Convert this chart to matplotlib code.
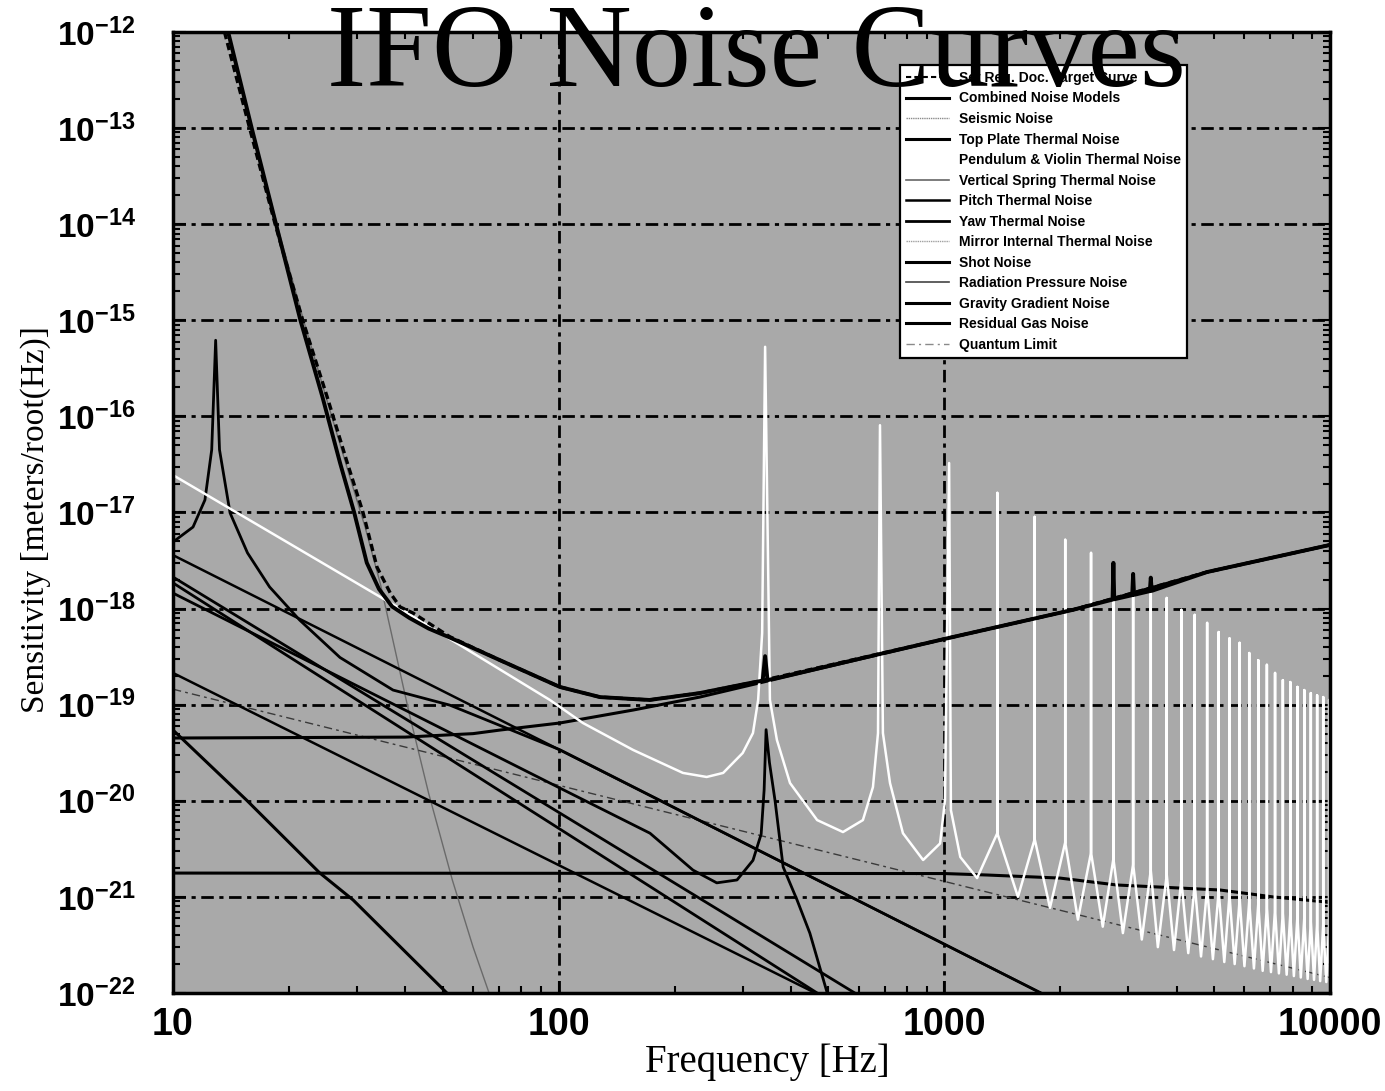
import matplotlib
matplotlib.use("Agg")
import matplotlib.pyplot as plt
from matplotlib.lines import Line2D
from matplotlib.ticker import FixedLocator, LogLocator, NullFormatter

plt.rcParams["mathtext.fontset"] = "custom"
plt.rcParams["mathtext.rm"] = "Liberation Sans:bold"
plt.rcParams["mathtext.bf"] = "Liberation Sans:bold"
plt.rcParams["mathtext.it"] = "Liberation Sans:bold"

# ---- data (Hz, m/rtHz) ----
target_f = [13.6, 15.8, 18.4, 21.7, 25.1, 28.3, 31.1, 33.8, 36.6, 38.8, 41.9, 52.2,
            70.5, 100.7, 128, 172, 232, 313, 340, 1016, 2153, 4797, 10000]
target_s = [1.0e-12, 1.0e-13, 1.0e-14, 1.0e-15, 1.6e-16, 3.3e-17, 1.0e-17, 2.7e-18,
            1.45e-18, 1.04e-18, 9.0e-19, 5.1e-19, 2.9e-19, 1.53e-19, 1.2e-19, 1.12e-19,
            1.32e-19, 1.68e-19, 1.8e-19, 4.9e-19, 9.7e-19, 2.4e-18, 4.6e-18]

combined_f = [13.9, 16.0, 18.5, 21.4, 24.4, 27.1, 29.5, 31.8, 34.2, 37.0, 41.0, 46.0,
              52.2, 70.5, 100.7, 128, 172, 232, 313, 338, 343, 348, 1016, 2153,
              2730, 2744, 2758, 3070, 3087, 3104, 3410, 3430, 3450, 4797, 10000]
combined_s = [1.0e-12, 1.0e-13, 1.0e-14, 1.0e-15, 1.6e-16, 3.3e-17, 1.0e-17, 3.0e-18,
              1.6e-18, 1.05e-18, 8.0e-19, 6.2e-19, 5.0e-19, 2.9e-19, 1.53e-19, 1.2e-19,
              1.12e-19, 1.32e-19, 1.68e-19, 1.78e-19, 3.2e-19, 1.8e-19, 4.9e-19, 9.7e-19,
              1.24e-18, 3.0e-18, 1.25e-18, 1.38e-18, 2.3e-18, 1.39e-18, 1.52e-18, 2.1e-18,
              1.53e-18, 2.4e-18, 4.6e-18]

seismic_f = [13.8, 16.0, 18.6, 21.8, 25.3, 28.6, 31.5, 34.5, 37.5, 41, 46, 53, 60, 66]
seismic_s = [1e-12, 1e-13, 1e-14, 1e-15, 1.3e-16, 2.5e-17, 7e-18, 1.8e-18, 4e-19,
             8e-20, 1.2e-20, 1.5e-21, 3e-22, 1e-22]

top_plate_f = [10, 11.27, 12.1, 12.6, 12.9, 13.2, 14.06, 15.6, 17.8, 21.3, 27.1, 37.2,
               52.2, 100.7, 1780]
top_plate_s = [4.93e-18, 7.06e-18, 1.35e-17, 4.5e-17, 6.2e-16, 4.5e-17, 9.9e-18, 3.8e-18,
               1.68e-18, 7.6e-19, 3.1e-19, 1.42e-19, 9.9e-20, 3.4e-20, 1.0e-22]

# pendulum / violin: low part with the first three modes
pend_f = [10, 38.8, 94.9, 115.6, 156, 210, 242, 267, 300, 319, 329, 337, 343, 353, 368,
          398, 468, 546, 615, 653, 673, 681, 693, 723, 781, 881, 975, 1004, 1029, 1040,
          1100]
pend_s = [2.45e-17, 1.0e-18, 1.12e-19, 6.45e-20, 3.38e-20, 1.95e-20, 1.77e-20, 1.95e-20,
          3.14e-20, 5.07e-20, 1.12e-19, 5.57e-19, 5.3e-16, 1.12e-19, 4.3e-20, 1.53e-20,
          6.3e-21, 4.73e-21, 6.3e-21, 1.39e-20, 5.07e-20, 8.1e-17, 5.07e-20, 1.53e-20,
          4.6e-21, 2.42e-21, 3.6e-21, 1.02e-20, 3.27e-17, 8.0e-21, 2.6e-21]
# higher violin harmonics
violin_f = [1372, 1715, 2058, 2401, 2744, 3087, 3430, 3773, 4116, 4459, 4802, 5145, 5488,
            5831, 6174, 6517, 6860, 7203, 7546, 7889, 8232, 8575, 8918, 9261, 9604, 9947]
violin_top = [1.6e-17, 9.0e-18, 5.2e-18, 3.8e-18, 3.05e-18, 2.34e-18, 2.1e-18, 1.29e-18,
              9.7e-19, 8.6e-19, 7.1e-19, 5.7e-19, 4.9e-19, 4.4e-19, 3.45e-19, 2.9e-19,
              2.6e-19, 2.14e-19, 1.8e-19, 1.72e-19, 1.53e-19, 1.42e-19, 1.32e-19, 1.25e-19,
              1.2e-19, 1.12e-19]
violin_base = [4.6e-21, 4.0e-21, 3.7e-21, 2.9e-21, 2.5e-21, 2.2e-21, 1.9e-21, 1.7e-21,
               1.5e-21, 1.35e-21, 1.25e-21, 1.15e-21, 1.05e-21, 9.5e-22, 9.0e-22, 8.5e-22,
               8.0e-22, 7.5e-22, 7.0e-22, 6.6e-22, 6.3e-22, 6.0e-22, 5.7e-22, 5.4e-22,
               5.2e-22, 5.0e-22]
valley_f = [1216, 1552, 1879, 2220, 2575, 2904, 3251, 3578, 3940, 4290, 4630, 4970, 5320,
            5660, 6000, 6350, 6690, 7030, 7370, 7720, 8060, 8400, 8750, 9090, 9430, 9780]
valley_s = [1.57e-21, 1.0e-21, 7.7e-22, 5.8e-22, 4.9e-22, 4.2e-22, 3.6e-22, 3.0e-22,
            2.8e-22, 2.6e-22, 2.4e-22, 2.25e-22, 2.1e-22, 2.0e-22, 1.9e-22, 1.8e-22,
            1.7e-22, 1.65e-22, 1.6e-22, 1.55e-22, 1.5e-22, 1.45e-22, 1.4e-22, 1.37e-22,
            1.33e-22, 1.3e-22]

vspring_f = [10, 95, 1780]
vspring_s = [3.6e-18, 3.8e-20, 1.0e-22]

pitch_f = [10, 95, 586]
pitch_s = [2.13e-18, 8.6e-21, 1.0e-22]

yaw_f = [10, 95, 468]
yaw_s = [1.85e-18, 5.9e-21, 1.0e-22]

mirror_f = [10, 94.9, 172.5, 223, 257, 290, 319, 335, 341, 345, 352, 364, 382, 415, 448, 497]
mirror_s = [1.45e-18, 1.53e-20, 4.6e-21, 1.9e-21, 1.4e-21, 1.5e-21, 2.4e-21, 4.5e-21,
            1.3e-20, 5.5e-20, 2.5e-20, 1.0e-20, 2.05e-21, 9.3e-22, 4.2e-22, 1.0e-22]

shot_f = [10, 40, 60, 70.5, 100.7, 156, 232, 339, 1016, 2153, 4797, 10000]
shot_s = [4.5e-20, 4.6e-20, 5.0e-20, 5.45e-20, 6.45e-20, 8.8e-20, 1.2e-19, 1.72e-19,
          4.9e-19, 9.7e-19, 2.4e-18, 4.6e-18]

radpress_f = [10, 463]
radpress_s = [2.14e-19, 1.0e-22]

gg_f = [10, 15.5, 24.0, 29.3, 51.3]
gg_s = [5.45e-20, 1.02e-20, 1.78e-21, 9.3e-22, 1.0e-22]

gas_f = [10, 1000, 1289, 1994, 2800, 5182, 7112, 9660, 10000]
gas_s = [1.77e-21, 1.75e-21, 1.69e-21, 1.57e-21, 1.33e-21, 1.18e-21, 1.0e-21, 8.9e-22, 8.7e-22]

ql_f = [10, 10000]
ql_s = [1.45e-19, 1.45e-22]

labels = ["Set Req. Doc. Target Curve", "Combined Noise Models", "Seismic Noise",
          "Top Plate Thermal Noise", "Pendulum & Violin Thermal Noise",
          "Vertical Spring Thermal Noise", "Pitch Thermal Noise", "Yaw Thermal Noise",
          "Mirror Internal Thermal Noise", "Shot Noise", "Radiation Pressure Noise",
          "Gravity Gradient Noise", "Residual Gas Noise", "Quantum Limit"]

# assemble the white pendulum / violin trace from the read-off pieces
white_f = list(pend_f)
white_s = list(pend_s)
for i in range(len(violin_f)):
    white_f += [valley_f[i], violin_f[i], violin_f[i], violin_f[i]]
    white_s += [valley_s[i], violin_base[i], violin_top[i], violin_base[i]]
white_f.append(10000)
white_s.append(1.5e-22)

W, H = 1385, 1091
fig = plt.figure(figsize=(W / 100, H / 100), dpi=100)
ax = fig.add_axes([173 / W, 1 - 993 / H, 1157 / W, 961 / H])
ax.set_facecolor("#a9a9a9")
ax.set_xscale("log")
ax.set_yscale("log")
ax.set_xlim(10, 10000)
ax.set_ylim(1e-22, 1e-12)

ax.set_axisbelow(True)
ax.grid(True, which="major", color="black", linestyle=(0, (4.5, 2, 1.5, 2)), linewidth=2)
ax.grid(False, which="minor")

ax.plot(seismic_f, seismic_s, color="#6a6a6a", lw=1.0)
ax.plot(ql_f, ql_s, color="#3a3a3a", lw=1.0, linestyle=(0, (6, 3, 2, 3)))
ax.plot(gas_f, gas_s, color="black", lw=2.2)
ax.plot(gg_f, gg_s, color="black", lw=2.2)
ax.plot(radpress_f, radpress_s, color="black", lw=1.8)
ax.plot(yaw_f, yaw_s, color="black", lw=2.0)
ax.plot(pitch_f, pitch_s, color="black", lw=2.0)
ax.plot(vspring_f, vspring_s, color="black", lw=1.8)
ax.plot(mirror_f, mirror_s, color="black", lw=2.0)
ax.plot(top_plate_f, top_plate_s, color="black", lw=2.0)
ax.plot(shot_f, shot_s, color="black", lw=2.2)
ax.plot(white_f, white_s, color="white", lw=1.8)
ax.plot(combined_f, combined_s, color="black", lw=2.8)
ax.plot(target_f, target_s, color="black", lw=2.4, linestyle=(0, (2.2, 1.2)))

# legend drawn with the sample styles seen in the reference box
styles = [
    dict(color="black", lw=1.5, linestyle=(0, (2.5, 1.5))),
    dict(color="black", lw=2.2),
    dict(color="#8a8a8a", lw=1.0, linestyle=(0, (1, 0.6))),
    dict(color="black", lw=2.2),
    dict(color="white", lw=1.5),
    dict(color="#666666", lw=1.2),
    dict(color="black", lw=1.8),
    dict(color="black", lw=2.0),
    dict(color="#a0a0a0", lw=1.0, linestyle=(0, (1, 0.6))),
    dict(color="black", lw=2.2),
    dict(color="#444444", lw=1.2),
    dict(color="black", lw=2.2),
    dict(color="black", lw=2.2),
    dict(color="#8a8a8a", lw=1.0, linestyle=(0, (6, 3, 1.5, 3))),
]
handles = [Line2D([], [], **st) for st in styles]
leg = ax.legend(handles, labels, loc="upper left", bbox_to_anchor=(0.628, 0.966),
                borderaxespad=0, fancybox=False, framealpha=1, edgecolor="black",
                facecolor="white", handlelength=3.1, handletextpad=0.7,
                labelspacing=0.47, borderpad=0.45,
                prop={"family": "Liberation Sans", "weight": "bold", "size": 10})
leg.get_frame().set_linewidth(1.6)
leg.set_zorder(5)

# ticks
ax.xaxis.set_major_locator(FixedLocator([10, 100, 1000, 10000]))
ax.set_xticklabels(["10", "100", "1000", "10000"])
ax.xaxis.set_minor_locator(LogLocator(base=10, subs=range(2, 10), numticks=20))
ax.xaxis.set_minor_formatter(NullFormatter())
ydec = list(range(-22, -11))
ax.yaxis.set_major_locator(FixedLocator([10.0 ** k for k in ydec]))
ax.set_yticklabels([r"$10^{%d}$" % k for k in ydec])
ax.yaxis.set_minor_locator(LogLocator(base=10, subs=range(2, 10), numticks=30))
ax.yaxis.set_minor_formatter(NullFormatter())
ax.tick_params(which="both", direction="in", top=True, right=True, width=1.5)
ax.tick_params(which="major", length=9)
ax.tick_params(which="minor", length=5)
ax.tick_params(axis="x", which="major", pad=10, labelsize=27)
ax.tick_params(axis="y", which="major", pad=27, labelsize=24)
for lab in ax.get_xticklabels():
    lab.set_family("Liberation Sans")
    lab.set_weight("bold")
for sp in ax.spines.values():
    sp.set_linewidth(2.5)

fig.text(756 / W, 1 - 86 / H, "IFO Noise Curves", family="Liberation Serif",
         fontsize=85, ha="center", va="baseline", zorder=10)
fig.text(767 / W, 1 - 1062 / H, "Frequency [Hz]", family="Liberation Serif",
         fontsize=28, ha="center", va="center")
fig.text(36 / W, 1 - 520 / H, "Sensitivity [meters/root(Hz)]", family="Liberation Serif",
         fontsize=24, ha="center", va="center", rotation=90)

fig.savefig("out.png", dpi=100, facecolor="white")
